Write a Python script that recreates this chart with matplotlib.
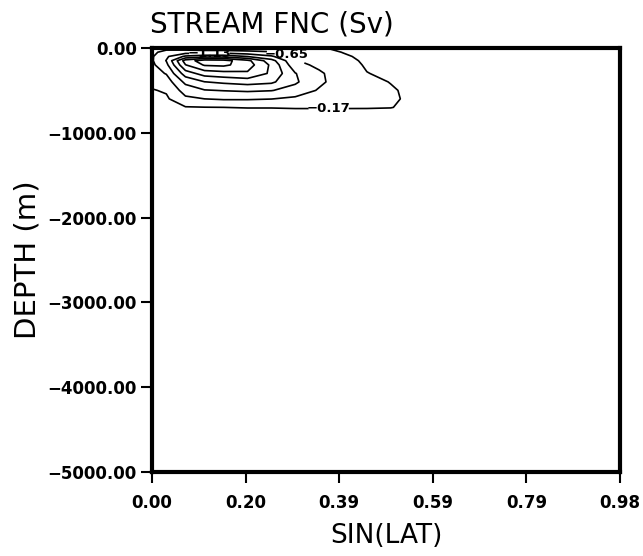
import numpy as np
import matplotlib
matplotlib.use('agg')
import matplotlib.pyplot as plt

# Rejilla del modelo: latitud (seno) y profundidad (m)
sin_lat = [0.0, 0.03, 0.07, 0.11, 0.15, 0.20, 0.25, 0.30, 0.35, 0.40, 0.45, 0.50, 0.55, 0.60, 0.98]
profundidad = [0, -50, -100, -150, -200, -300, -400, -500, -600, -700, -800, -1000, -5000]

# Función de corriente (Sv), una fila por profundidad
psi = [
    [-0.50, -0.50, -0.40, -0.30, -0.30, -0.30, -0.30, -0.30, -0.20, -0.10, -0.05, -0.02, 0, 0, 0],
    [-0.55, -0.80, -0.90, -0.90, -0.90, -0.80, -0.70, -0.50, -0.30, -0.16, -0.07, -0.03, -0.01, 0, 0],
    [-0.60, -1.05, -1.70, -1.90, -1.90, -1.60, -1.20, -0.60, -0.40, -0.22, -0.09, -0.04, -0.01, 0, 0],
    [-0.60, -1.15, -2.80, -3.30, -3.25, -2.70, -1.80, -0.68, -0.45, -0.28, -0.11, -0.05, -0.02, 0, 0],
    [-0.55, -1.00, -2.55, -3.10, -3.15, -2.80, -2.00, -0.80, -0.55, -0.33, -0.13, -0.06, -0.02, 0, 0],
    [-0.45, -0.68, -1.85, -2.30, -2.40, -2.50, -2.00, -1.15, -0.72, -0.40, -0.18, -0.10, -0.04, 0, 0],
    [-0.30, -0.40, -1.25, -1.60, -1.70, -1.80, -1.70, -1.20, -0.75, -0.40, -0.25, -0.16, -0.07, 0, 0],
    [-0.14, -0.22, -0.85, -1.10, -1.15, -1.20, -1.15, -0.95, -0.60, -0.35, -0.27, -0.20, -0.10, 0, 0],
    [-0.05, -0.10, -0.55, -0.65, -0.70, -0.70, -0.66, -0.55, -0.42, -0.28, -0.25, -0.21, -0.11, 0, 0],
    [0, -0.03, -0.14, -0.16, -0.17, -0.18, -0.18, -0.19, -0.19, -0.19, -0.19, -0.18, -0.09, 0, 0],
    [0, 0, -0.03, -0.04, -0.05, -0.05, -0.05, -0.05, -0.05, -0.05, -0.04, -0.03, -0.01, 0, 0],
    [0, 0, 0, 0, 0, 0, 0, 0, 0, 0, 0, 0, 0, 0, 0],
    [0, 0, 0, 0, 0, 0, 0, 0, 0, 0, 0, 0, 0, 0, 0],
]

niveles = [-3.05, -2.57, -2.09, -1.61, -1.13, -0.65, -0.17]
# niveles con etiqueta y punto aproximado donde se coloca
etiquetas = {-0.17: (0.37, -720), -0.65: (0.28, -120), -1.13: (0.12, -80)}

x_ticks = [0.0, 0.196, 0.392, 0.588, 0.784, 0.98]
x_ticklabels = ['0.00', '0.20', '0.39', '0.59', '0.79', '0.98']
y_ticks = [0, -1000, -2000, -3000, -4000, -5000]
y_ticklabels = ['0.00', '\u22121000.00', '\u22122000.00', '\u22123000.00', '\u22124000.00', '\u22125000.00']

fig = plt.figure(figsize=(6.43, 5.56), dpi=100)
ax = fig.add_axes([0.2364, 0.151, 0.7278, 0.7627])

campo = np.array(psi)
for nivel in niveles:
    cs = ax.contour(sin_lat, profundidad, campo, levels=[nivel],
                    colors='black', linewidths=1.2, linestyles='solid')
    if nivel in etiquetas:
        txt = ax.clabel(cs, manual=[etiquetas[nivel]], fmt='%.2f', fontsize=9.5,
                        inline=True, inline_spacing=3)
        for t in txt:
            t.set_fontweight('bold')
            t.set_rotation(0)
            t.set_text(t.get_text().replace('-', '\u2212'))

ax.set_xlim(0, 0.98)
ax.set_ylim(-5000, 0)
ax.set_xticks(x_ticks)
ax.set_xticklabels(x_ticklabels)
ax.set_yticks(y_ticks)
ax.set_yticklabels(y_ticklabels)
ax.tick_params(direction='out', length=8, width=1.5, labelsize=12, pad=3)
ax.tick_params(axis='x', pad=8)
for lab in ax.get_xticklabels() + ax.get_yticklabels():
    lab.set_fontweight('bold')
for s in ax.spines.values():
    s.set_linewidth(3)

ax.set_title('STREAM FNC (Sv)', loc='left', fontsize=20, pad=11, x=-0.005)
ax.set_xlabel('SIN(LAT)', fontsize=19, labelpad=8)
ax.set_ylabel('DEPTH (m)', fontsize=21, labelpad=4)

plt.savefig('out.png', dpi=100)
